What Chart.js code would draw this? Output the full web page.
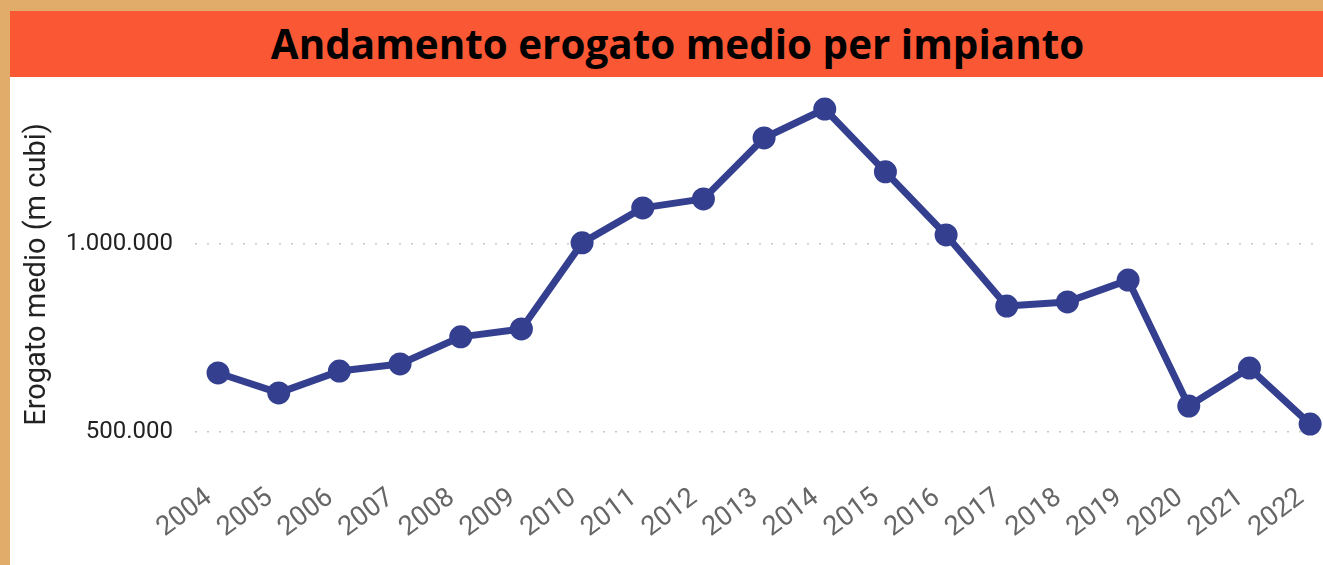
<!DOCTYPE html>
<html>
<head>
<meta charset="utf-8">
<script src="https://cdn.jsdelivr.net/npm/chart.js@4"></script>
<style>
  html, body { margin: 0; padding: 0; }
  body { width: 1323px; height: 565px; background: #E1AB69; position: relative; overflow: hidden; }
  #title {
    position: absolute; left: 10px; top: 11px; width: 1291px; height: 66px; padding-left: 22px;
    background: #FA5835; color: #000;
    font-family: "Open Sans", sans-serif; font-weight: 700; font-size: 40.4px;
    line-height: 66px; text-align: center;
  }
  #wrap { position: absolute; left: 10px; top: 77px; width: 1313px; height: 488px; background: #fff; }
</style>
</head>
<body>
<div id="title">Andamento erogato medio per impianto</div>
<div id="wrap"><canvas id="erogatoChart" width="1313" height="488"></canvas></div>
<script>
const years = [2004, 2005, 2006, 2007, 2008, 2009, 2010, 2011, 2012, 2013, 2014, 2015, 2016, 2017, 2018, 2019, 2020, 2021, 2022];
const erogato = [657000, 604000, 662000, 681000, 753000, 774000, 1003000, 1096000, 1120000, 1282000, 1359000, 1192000, 1024000, 835000, 846000, 904000, 569000, 670000, 521000];
const yTicks = [500000, 1000000];

const ctx = document.getElementById("erogatoChart").getContext("2d");

new Chart(ctx, {
  type: "line",
  data: {
    datasets: [{
      label: "Erogato medio",
      data: years.map((y, i) => ({ x: y, y: erogato[i] })),
      borderColor: "#34408F",
      backgroundColor: "#34408F",
      borderWidth: 7,
      pointRadius: 8,
      pointHoverRadius: 8,
      borderJoinStyle: "round",
      tension: 0,
      clip: false
    }]
  },
  options: {
    responsive: false,
    animation: false,
    layout: { autoPadding: false, padding: { left: 0, right: 5, top: 20, bottom: 0 } },
    plugins: { legend: { display: false }, tooltip: { enabled: false } },
    scales: {
      x: {
        type: "linear",
        min: 2003.62,
        max: 2022.13,
        afterBuildTicks: (axis) => { axis.ticks = years.map(v => ({ value: v })); },
        afterFit: (axis) => { axis.height = 113; axis.paddingLeft = 0; axis.paddingRight = 0; },
        grid: { display: false },
        border: { display: false },
        ticks: {
          color: "#666",
          font: { family: "Roboto", size: 27 },
          minRotation: 37,
          maxRotation: 37,
          padding: 22,
          labelOffset: -9,
          autoSkip: false,
          callback: (v) => String(v)
        }
      },
      y: {
        min: 446800,
        max: 1390957,
        afterBuildTicks: (axis) => { axis.ticks = yTicks.map(v => ({ value: v })); },
        afterFit: (axis) => { axis.width = 185; axis.paddingTop = 0; axis.paddingBottom = 0; },
        grid: { color: "#C8C8C8", lineWidth: 1.5, drawTicks: false },
        border: { display: false, dash: [2, 10] },
        ticks: {
          color: "#222",
          font: { family: "Roboto", size: 24 },
          padding: 22,
          callback: (v) => v.toLocaleString("de-DE")
        },
        title: {
          display: true,
          text: "Erogato medio (m cubi)",
          color: "#222",
          font: { family: "Roboto", size: 29 },
          padding: { top: 10, bottom: 0 }
        }
      }
    }
  }
});
</script>
</body>
</html>
